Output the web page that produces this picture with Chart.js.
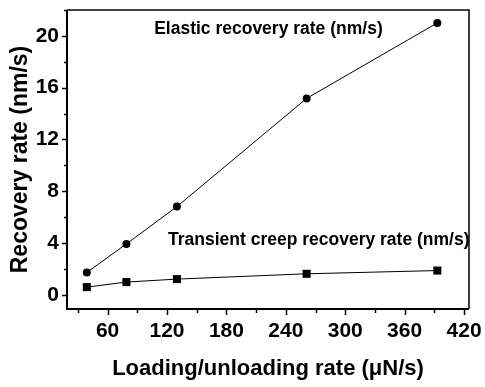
<!DOCTYPE html>
<html>
<head>
<meta charset="utf-8">
<script src="https://cdn.jsdelivr.net/npm/chart.js@4/dist/chart.umd.min.js"></script>
<style>
  html, body { margin: 0; padding: 0; background: #fff; }
  canvas { display: block; }
</style>
</head>
<body>
<canvas id="chart" width="485" height="387"></canvas>
<script>
// Loading/unloading rate (µN/s) of each test
const loadingRates = [39, 79, 130, 261, 393];
// Recovery rates (nm/s)
const elasticRecovery = [1.72, 3.93, 6.81, 15.17, 21.0];
const transientCreepRecovery = [0.59, 0.98, 1.21, 1.62, 1.87];

const seriesNames = ['Elastic recovery rate (nm/s)', 'Transient creep recovery rate (nm/s)'];
const xTickValues = [60, 120, 180, 240, 300, 360, 420];
const yTickValues = [0, 4, 8, 12, 16, 20];
const xMinorStep = 30;
const yMinorStep = 2;
const xAxisTitle = 'Loading/unloading rate (\u03bcN/s)';
const yAxisTitle = 'Recovery rate (nm/s)';

const FONT = '"Liberation Sans", Arial, Helvetica, sans-serif';

function toPoints(xs, ys) {
  return xs.map((x, i) => ({ x: x, y: ys[i] }));
}

// Frame around the plot area plus outward major/minor tick marks
const framePlugin = {
  id: 'frame',
  afterDatasetsDraw(chart) {
    const { ctx, chartArea: a, scales: { x, y } } = chart;
    ctx.save();
    ctx.strokeStyle = '#000';
    ctx.lineWidth = 1.5;
    ctx.beginPath();
    ctx.moveTo(a.left, a.top);
    ctx.lineTo(a.right, a.top);
    ctx.lineTo(a.right, a.bottom);
    ctx.stroke();
    ctx.lineWidth = 2;
    ctx.beginPath();
    ctx.moveTo(a.left, a.top);
    ctx.lineTo(a.left, a.bottom);
    ctx.lineTo(a.right, a.bottom);
    ctx.stroke();

    ctx.lineWidth = 1.5;
    ctx.beginPath();
    for (let v = Math.ceil(x.min / xMinorStep) * xMinorStep; v <= x.max; v += xMinorStep) {
      const px = Math.round(x.getPixelForValue(v)) + 0.5;
      const len = xTickValues.includes(v) ? 6 : 4;
      ctx.moveTo(px, a.bottom);
      ctx.lineTo(px, a.bottom + len);
    }
    for (let v = Math.ceil(y.min / yMinorStep) * yMinorStep; v <= y.max; v += yMinorStep) {
      const py = Math.round(y.getPixelForValue(v)) + 0.5;
      const len = yTickValues.includes(v) ? 5 : 3;
      ctx.moveTo(a.left - len, py);
      ctx.lineTo(a.left, py);
    }
    ctx.stroke();
    ctx.restore();
  }
};

// Series names written next to their curves
const seriesLabelPlugin = {
  id: 'seriesLabels',
  afterDatasetsDraw(chart) {
    const { ctx, scales: { x, y } } = chart;
    const anchors = [{ x: 107, y: 20.5 }, { x: 121, y: 4.25 }];
    ctx.save();
    ctx.fillStyle = '#000';
    ctx.font = 'bold 17.5px ' + FONT;
    ctx.textAlign = 'left';
    ctx.textBaseline = 'middle';
    seriesNames.forEach((name, i) => {
      ctx.fillText(name, x.getPixelForValue(anchors[i].x), y.getPixelForValue(anchors[i].y));
    });
    ctx.restore();
  }
};

new Chart(document.getElementById('chart'), {
  type: 'line',
  data: {
    datasets: [
      {
        label: seriesNames[0],
        data: toPoints(loadingRates, elasticRecovery),
        borderColor: '#000',
        backgroundColor: '#000',
        borderWidth: 1,
        pointStyle: 'circle',
        pointRadius: 4,
        pointBorderWidth: 0,
        tension: 0
      },
      {
        label: seriesNames[1],
        data: toPoints(loadingRates, transientCreepRecovery),
        borderColor: '#000',
        backgroundColor: '#000',
        borderWidth: 1,
        pointStyle: 'rect',
        pointRadius: 5.7,
        pointBorderWidth: 0,
        tension: 0
      }
    ]
  },
  options: {
    responsive: false,
    animation: false,
    layout: { padding: { top: 10, right: 16, left: 0, bottom: 0 } },
    plugins: {
      legend: { display: false },
      tooltip: { enabled: false }
    },
    scales: {
      x: {
        type: 'linear',
        min: 19,
        max: 425,
        grid: { display: false, drawTicks: false },
        border: { display: false },
        afterBuildTicks(scale) { scale.ticks = xTickValues.map(v => ({ value: v })); },
        afterFit(scale) {
          scale.height = 78;
          scale.paddingLeft = 0;
          scale.paddingRight = 0;
        },
        ticks: {
          color: '#000',
          padding: 10,
          maxRotation: 0,
          autoSkip: false,
          font: { family: FONT, size: 21, weight: 'bold' }
        },
        title: {
          display: true,
          text: xAxisTitle,
          color: '#000',
          padding: { top: 0, bottom: 5 },
          font: { family: FONT, size: 22, weight: 'bold' }
        }
      },
      y: {
        type: 'linear',
        min: -1.1,
        max: 22,
        grid: { display: false, drawTicks: false },
        border: { display: false },
        afterBuildTicks(scale) { scale.ticks = yTickValues.map(v => ({ value: v })); },
        afterFit(scale) {
          scale.width = 67;
          scale.paddingTop = 0;
          scale.paddingBottom = 0;
        },
        ticks: {
          color: '#000',
          padding: 8,
          autoSkip: false,
          font: { family: FONT, size: 21, weight: 'bold' }
        },
        title: {
          display: true,
          text: yAxisTitle,
          color: '#000',
          padding: { top: 7, bottom: 0 },
          font: { family: FONT, size: 23, weight: 'bold' }
        }
      }
    }
  },
  plugins: [framePlugin, seriesLabelPlugin]
});
</script>
</body>
</html>
